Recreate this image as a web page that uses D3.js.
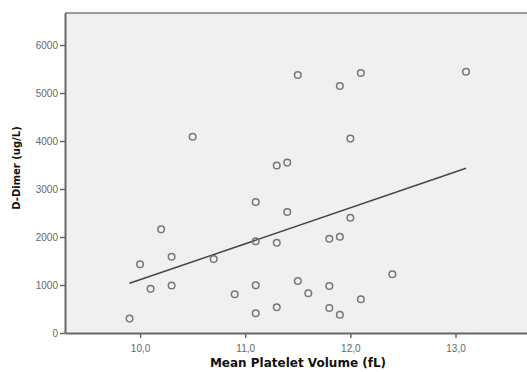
<!DOCTYPE html>
<html lang="en">
<head>
<meta charset="utf-8">
<title>MPV vs D-Dimer</title>
<script src="https://cdn.jsdelivr.net/npm/d3@7"></script>
<style>
  body { margin: 0; background: #fff; }
  svg { display: block; }
  .tick text { font-family: Arial, "Liberation Sans", sans-serif; font-size: 10px; fill: #666; }
  .axis-title { font-family: "DejaVu Sans", Verdana, sans-serif; font-weight: bold; fill: #111; }
</style>
</head>
<body>
<svg width="527" height="372"></svg>
<script>
// MPV (fL) and D-Dimer (ug/L)
var mpv = [9.9, 10.0, 10.1, 10.2, 10.3, 10.3, 10.5, 10.7, 10.9, 11.1, 11.1, 11.1, 11.1,
           11.3, 11.3, 11.3, 11.4, 11.4, 11.5, 11.5, 11.6, 11.8, 11.8, 11.8, 11.9, 11.9,
           11.9, 12.0, 12.0, 12.1, 12.1, 12.4, 13.1]
var dDimer = [300, 1430, 920, 2160, 1590, 990, 4090, 1540, 806, 2730, 1910, 994, 410,
              3490, 1880, 535, 3550, 2520, 5375, 1083, 827, 1965, 980, 520, 5146, 2006,
              381, 4050, 2400, 5417, 702, 1223, 5444]
// fit line ends
var fitX = [9.9, 13.1]
var fitY = [1035, 3431]

var xTicks = [10, 11, 12, 13]
var yTicks = [0, 1000, 2000, 3000, 4000, 5000, 6000]

var margin = {left: 65, top: 13, right: 0, bottom: 39}
var width = 527, height = 372
var svg = d3.select('svg')

var x = d3.scaleLinear().domain([9.286, 13.68]).range([margin.left, width - margin.right])
var y = d3.scaleLinear().domain([0, 6667]).range([height - margin.bottom, margin.top])

// plot background
svg.append('rect')
  .attr('x', margin.left).attr('y', margin.top)
  .attr('width', width - margin.right - margin.left)
  .attr('height', height - margin.bottom - margin.top)
  .attr('fill', '#f0f0f0')

// top frame line
svg.append('line')
  .attr('x1', margin.left).attr('x2', width)
  .attr('y1', margin.top).attr('y2', margin.top)
  .attr('stroke', '#999').attr('stroke-width', 2)

var xAxis = svg.append('g')
  .attr('transform', 'translate(0,' + (height - margin.bottom) + ')')
  .call(d3.axisBottom(x).tickValues(xTicks).tickSize(5).tickSizeOuter(0)
    .tickFormat(function(d) { return d3.format('.1f')(d).replace('.', ',') }))

var yAxis = svg.append('g')
  .attr('transform', 'translate(' + margin.left + ',0)')
  .call(d3.axisLeft(y).tickValues(yTicks).tickSize(5).tickSizeOuter(0).tickFormat(d3.format('d')))

svg.selectAll('.domain').attr('stroke', '#666').attr('stroke-width', 2)
svg.selectAll('.tick line').attr('stroke', '#666').attr('stroke-width', 1.5)
xAxis.selectAll('.tick text').attr('dy', '1.1em')
yAxis.selectAll('.tick text').attr('x', -7)

// regression line
svg.append('line')
  .attr('x1', x(fitX[0])).attr('y1', y(fitY[0]))
  .attr('x2', x(fitX[1])).attr('y2', y(fitY[1]))
  .attr('stroke', '#444').attr('stroke-width', 1.5)

// points
svg.selectAll('circle.pt')
  .data(mpv)
  .enter()
  .append('circle')
  .attr('class', 'pt')
  .attr('cx', function(d) { return x(d) })
  .attr('cy', function(d, i) { return y(dDimer[i]) })
  .attr('r', 3.3)
  .attr('fill', 'none')
  .attr('stroke', '#777')
  .attr('stroke-width', 1.5)

svg.append('text')
  .attr('class', 'axis-title')
  .attr('x', 298)
  .attr('y', 367)
  .attr('text-anchor', 'middle')
  .attr('font-size', 12)
  .text('Mean Platelet Volume (fL)')

svg.append('text')
  .attr('class', 'axis-title')
  .attr('transform', 'translate(20,168) rotate(-90)')
  .attr('text-anchor', 'middle')
  .attr('font-size', 10)
  .text('D-Dimer (ug/L)')
</script>
</body>
</html>
